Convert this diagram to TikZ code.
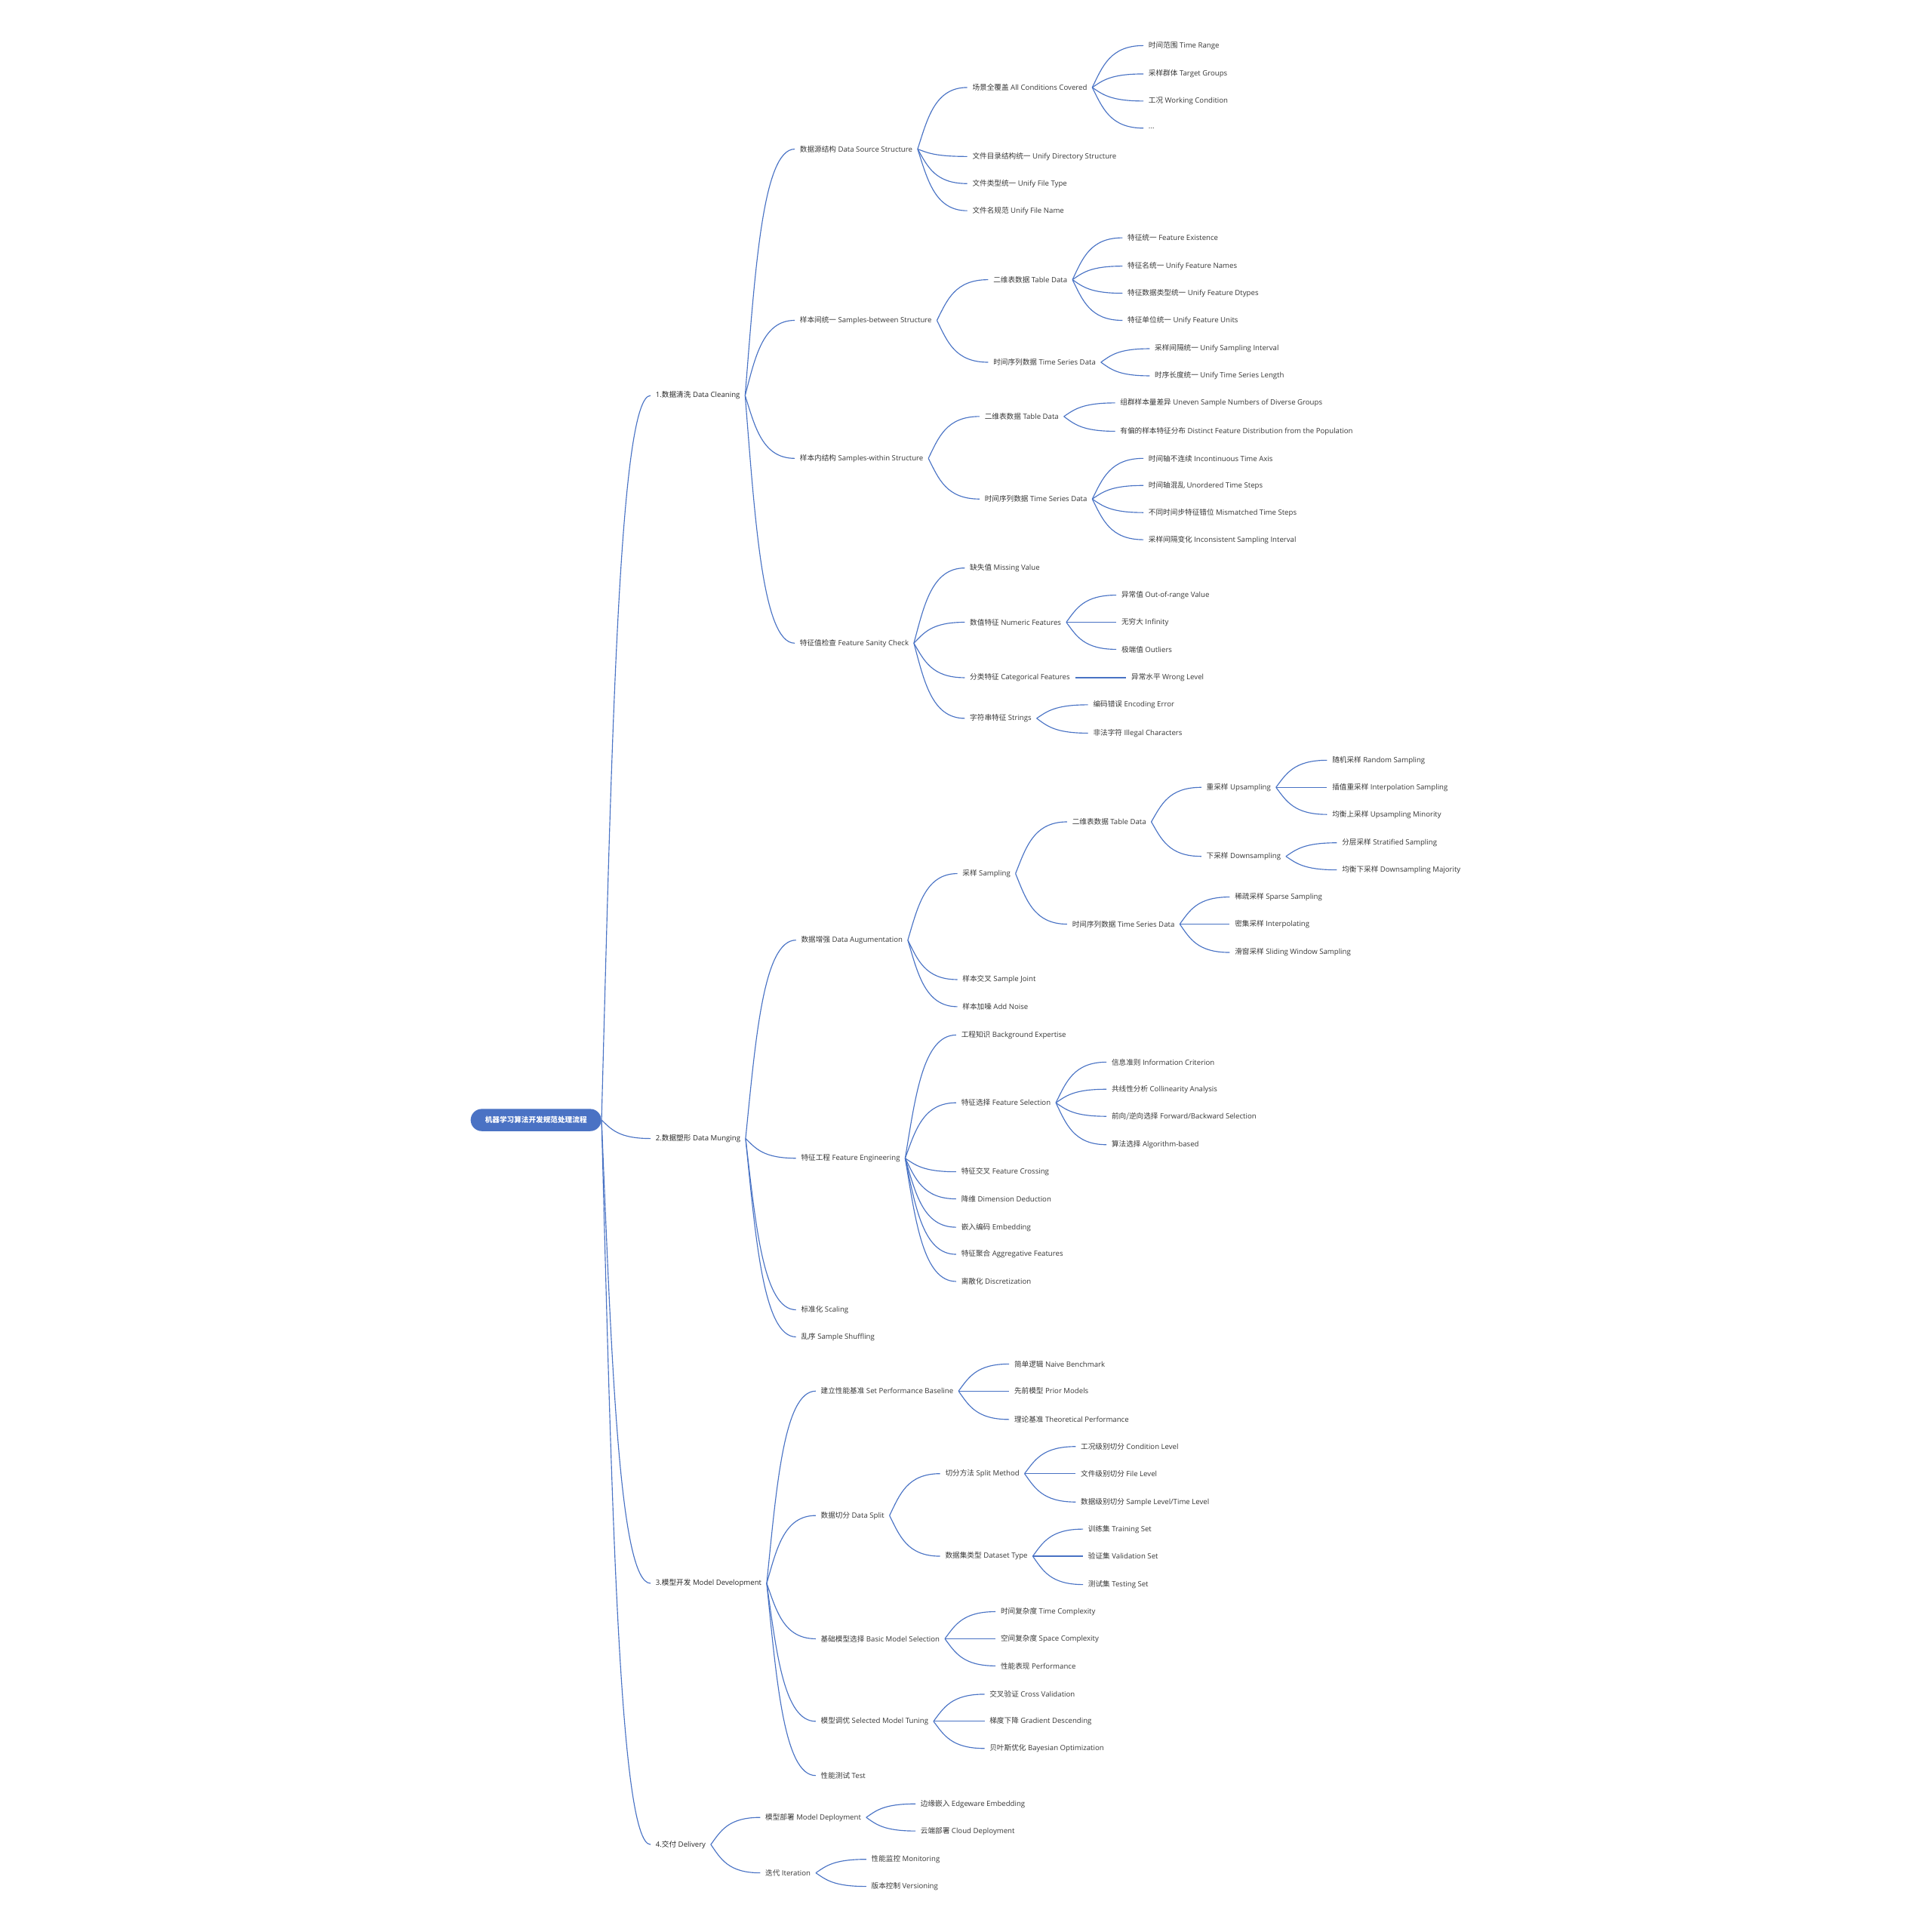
\documentclass[tikz,border=0pt]{standalone}
\usepackage{fontspec}
\setmainfont{Open Sans}
\newfontfamily\cjk{Noto Sans CJK SC}
\usetikzlibrary{calc}
\newcommand\zh[1]{{\cjk #1}}
\definecolor{branch}{RGB}{72,114,196}
\definecolor{topicfill}{RGB}{74,114,196}
\definecolor{labeltext}{RGB}{55,55,55}
% curved branch from the right end of a parent to the left end of a child
\newcommand\linkto[2]{\draw[conn] let \p1=(#1.east),\p2=(#2.west) in
  (\p1) .. controls ({\x1+0.2*(\x2-\x1)},{\y1+0.5*(\y2-\y1)}) and ({\x1+0.35*(\x2-\x1)},\y2) .. (\p2);}

\begin{document}
\begin{tikzpicture}[x=1pt,y=-1pt,
  lbl/.style={anchor=west, xshift=-4pt, inner xsep=4pt, inner ysep=1pt,
              font=\fontsize{5.9}{7}\selectfont, text=labeltext},
  main/.style={lbl, text=black!85},
  conn/.style={draw=branch, line width=0.7pt},
  roottopic/.style={fill=topicfill, rounded corners=9pt, minimum width=106pt,
              minimum height=18pt, inner sep=0pt, text=white,
              font=\fontsize{5.9}{7}\selectfont\bfseries}]
\useasboundingbox (0,0) rectangle (1568,1568);

% ---------- central topic ----------
\node[roottopic] (root) at (435,909) {\zh{机器学习算法开发规范处理流程}};

% ---------- main branches ----------
\node[main] (dc) at (532,321) {1.\zh{数据清洗} Data Cleaning};
\node[main] (dm) at (532,924) {2.\zh{数据塑形} Data Munging};
\node[main] (md) at (532,1285) {3.\zh{模型开发} Model Development};
\node[main] (dl) at (532,1497) {4.\zh{交付} Delivery};

% ---------- 1. data cleaning ----------
\node[lbl] (dc1) at (649,121) {\zh{数据源结构} Data Source Structure};
\node[lbl] (dc11) at (789,71) {\zh{场景全覆盖} All Conditions Covered};
\node[lbl] (dc111) at (932,37) {\zh{时间范围} Time Range};
\node[lbl] (dc112) at (932,60) {\zh{采样群体} Target Groups};
\node[lbl] (dc113) at (932,82) {\zh{工况} Working Condition};
\node[lbl] (dc114) at (932,104) {...};
\node[lbl] (dc12) at (789,127) {\zh{文件目录结构统一} Unify Directory Structure};
\node[lbl] (dc13) at (789,149) {\zh{文件类型统一} Unify File Type};
\node[lbl] (dc14) at (789,171) {\zh{文件名规范} Unify File Name};

\node[lbl] (dc2) at (649,260) {\zh{样本间统一} Samples-between Structure};
\node[lbl] (dc21) at (806,227) {\zh{二维表数据} Table Data};
\node[lbl] (dc211) at (915,193) {\zh{特征统一} Feature Existence};
\node[lbl] (dc212) at (915,216) {\zh{特征名统一} Unify Feature Names};
\node[lbl] (dc213) at (915,238) {\zh{特征数据类型统一} Unify Feature Dtypes};
\node[lbl] (dc214) at (915,260) {\zh{特征单位统一} Unify Feature Units};
\node[lbl] (dc22) at (806,294) {\zh{时间序列数据} Time Series Data};
\node[lbl] (dc221) at (937,283) {\zh{采样间隔统一} Unify Sampling Interval};
\node[lbl] (dc222) at (937,305) {\zh{时序长度统一} Unify Time Series Length};

\node[lbl] (dc3) at (649,372) {\zh{样本内结构} Samples-within Structure};
\node[lbl] (dc31) at (799,338) {\zh{二维表数据} Table Data};
\node[lbl] (dc311) at (909,327) {\zh{组群样本量差异} Uneven Sample Numbers of Diverse Groups};
\node[lbl] (dc312) at (909,350) {\zh{有偏的样本特征分布} Distinct Feature Distribution from the Population};
\node[lbl] (dc32) at (799,405) {\zh{时间序列数据} Time Series Data};
\node[lbl] (dc321) at (932,372) {\zh{时间轴不连续} Incontinuous Time Axis};
\node[lbl] (dc322) at (932,394) {\zh{时间轴混乱} Unordered Time Steps};
\node[lbl] (dc323) at (932,416) {\zh{不同时间步特征错位} Mismatched Time Steps};
\node[lbl] (dc324) at (932,438) {\zh{采样间隔变化} Inconsistent Sampling Interval};

\node[lbl] (dc4) at (649,522) {\zh{特征值检查} Feature Sanity Check};
\node[lbl] (dc41) at (787,461) {\zh{缺失值} Missing Value};
\node[lbl] (dc42) at (787,505) {\zh{数值特征} Numeric Features};
\node[lbl] (dc421) at (910,483) {\zh{异常值} Out-of-range Value};
\node[lbl] (dc422) at (910,505) {\zh{无穷大} Infinity};
\node[lbl] (dc423) at (910,527) {\zh{极端值} Outliers};
\node[lbl] (dc43) at (787,550) {\zh{分类特征} Categorical Features};
\node[lbl] (dc431) at (918,550) {\zh{异常水平} Wrong Level};
\node[lbl] (dc44) at (787,583) {\zh{字符串特征} Strings};
\node[lbl] (dc441) at (887,572) {\zh{编码错误} Encoding Error};
\node[lbl] (dc442) at (887,595) {\zh{非法字符} Illegal Characters};

% ---------- 2. data munging ----------
\node[lbl] (dm1) at (650,763) {\zh{数据增强} Data Augumentation};
\node[lbl] (dm11) at (781,709) {\zh{采样} Sampling};
\node[lbl] (dm111) at (870,667) {\zh{二维表数据} Table Data};
\node[lbl] (dm1111) at (979,639) {\zh{重采样} Upsampling};
\node[lbl] (up1) at (1081,617) {\zh{随机采样} Random Sampling};
\node[lbl] (up2) at (1081,639) {\zh{插值重采样} Interpolation Sampling};
\node[lbl] (up3) at (1081,661) {\zh{均衡上采样} Upsampling Minority};
\node[lbl] (dm1112) at (979,695) {\zh{下采样} Downsampling};
\node[lbl] (dn1) at (1089,684) {\zh{分层采样} Stratified Sampling};
\node[lbl] (dn2) at (1089,706) {\zh{均衡下采样} Downsampling Majority};
\node[lbl] (dm112) at (870,750) {\zh{时间序列数据} Time Series Data};
\node[lbl] (ts1) at (1002,728) {\zh{稀疏采样} Sparse Sampling};
\node[lbl] (ts2) at (1002,750) {\zh{密集采样} Interpolating};
\node[lbl] (ts3) at (1002,773) {\zh{滑窗采样} Sliding Window Sampling};
\node[lbl] (dm12) at (781,795) {\zh{样本交叉} Sample Joint};
\node[lbl] (dm13) at (781,817) {\zh{样本加噪} Add Noise};

\node[lbl] (dm2) at (650,940) {\zh{特征工程} Feature Engineering};
\node[lbl] (fe1) at (780,840) {\zh{工程知识} Background Expertise};
\node[lbl] (fe2) at (780,895) {\zh{特征选择} Feature Selection};
\node[lbl] (fs1) at (902,862) {\zh{信息准则} Information Criterion};
\node[lbl] (fs2) at (902,884) {\zh{共线性分析} Collinearity Analysis};
\node[lbl] (fs3) at (902,906) {\zh{前向/逆向选择} Forward/Backward Selection};
\node[lbl] (fs4) at (902,929) {\zh{算法选择} Algorithm-based};
\node[lbl] (fe3) at (780,951) {\zh{特征交叉} Feature Crossing};
\node[lbl] (fe4) at (780,973) {\zh{降维} Dimension Deduction};
\node[lbl] (fe5) at (780,996) {\zh{嵌入编码} Embedding};
\node[lbl] (fe6) at (780,1018) {\zh{特征聚合} Aggregative Features};
\node[lbl] (fe7) at (780,1040) {\zh{离散化} Discretization};
\node[lbl] (dm3) at (650,1063) {\zh{标准化} Scaling};
\node[lbl] (dm4) at (650,1085) {\zh{乱序} Sample Shuffling};

% ---------- 3. model development ----------
\node[lbl] (md1) at (666,1129) {\zh{建立性能基准} Set Performance Baseline};
\node[lbl] (bl1) at (823,1107) {\zh{简单逻辑} Naive Benchmark};
\node[lbl] (bl2) at (823,1129) {\zh{先前模型} Prior Models};
\node[lbl] (bl3) at (823,1152) {\zh{理论基准} Theoretical Performance};
\node[lbl] (md2) at (666,1230) {\zh{数据切分} Data Split};
\node[lbl] (md21) at (767,1196) {\zh{切分方法} Split Method};
\node[lbl] (sm1) at (877,1174) {\zh{工况级别切分} Condition Level};
\node[lbl] (sm2) at (877,1196) {\zh{文件级别切分} File Level};
\node[lbl] (sm3) at (877,1219) {\zh{数据级别切分} Sample Level/Time Level};
\node[lbl] (md22) at (767,1263) {\zh{数据集类型} Dataset Type};
\node[lbl] (st1) at (883,1241) {\zh{训练集} Training Set};
\node[lbl] (st2) at (883,1263) {\zh{验证集} Validation Set};
\node[lbl] (st3) at (883,1286) {\zh{测试集} Testing Set};
\node[lbl] (md3) at (666,1330) {\zh{基础模型选择} Basic Model Selection};
\node[lbl] (ms1) at (812,1308) {\zh{时间复杂度} Time Complexity};
\node[lbl] (ms2) at (812,1330) {\zh{空间复杂度} Space Complexity};
\node[lbl] (ms3) at (812,1352) {\zh{性能表现} Performance};
\node[lbl] (md4) at (666,1397) {\zh{模型调优} Selected Model Tuning};
\node[lbl] (tu1) at (803,1375) {\zh{交叉验证} Cross Validation};
\node[lbl] (tu2) at (803,1397) {\zh{梯度下降} Gradient Descending};
\node[lbl] (tu3) at (803,1419) {\zh{贝叶斯优化} Bayesian Optimization};
\node[lbl] (md5) at (666,1441) {\zh{性能测试} Test};

% ---------- 4. delivery ----------
\node[lbl] (dl1) at (621,1475) {\zh{模型部署} Model Deployment};
\node[lbl] (dp1) at (747,1464) {\zh{边缘嵌入} Edgeware Embedding};
\node[lbl] (dp2) at (747,1486) {\zh{云端部署} Cloud Deployment};
\node[lbl] (dl2) at (621,1520) {\zh{迭代} Iteration};
\node[lbl] (it1) at (707,1509) {\zh{性能监控} Monitoring};
\node[lbl] (it2) at (707,1531) {\zh{版本控制} Versioning};

% ---------- branches ----------
\foreach \c in {dc,dm,md,dl} {\linkto{root}{\c}}
\foreach \c in {dc1,dc2,dc3,dc4} {\linkto{dc}{\c}}
\foreach \c in {dc11,dc12,dc13,dc14} {\linkto{dc1}{\c}}
\foreach \c in {dc111,dc112,dc113,dc114} {\linkto{dc11}{\c}}
\foreach \c in {dc21,dc22} {\linkto{dc2}{\c}}
\foreach \c in {dc211,dc212,dc213,dc214} {\linkto{dc21}{\c}}
\foreach \c in {dc221,dc222} {\linkto{dc22}{\c}}
\foreach \c in {dc31,dc32} {\linkto{dc3}{\c}}
\foreach \c in {dc311,dc312} {\linkto{dc31}{\c}}
\foreach \c in {dc321,dc322,dc323,dc324} {\linkto{dc32}{\c}}
\foreach \c in {dc41,dc42,dc43,dc44} {\linkto{dc4}{\c}}
\foreach \c in {dc421,dc422,dc423} {\linkto{dc42}{\c}}
\linkto{dc43}{dc431}
\foreach \c in {dc441,dc442} {\linkto{dc44}{\c}}

\foreach \c in {dm1,dm2,dm3,dm4} {\linkto{dm}{\c}}
\foreach \c in {dm11,dm12,dm13} {\linkto{dm1}{\c}}
\foreach \c in {dm111,dm112} {\linkto{dm11}{\c}}
\foreach \c in {dm1111,dm1112} {\linkto{dm111}{\c}}
\foreach \c in {up1,up2,up3} {\linkto{dm1111}{\c}}
\foreach \c in {dn1,dn2} {\linkto{dm1112}{\c}}
\foreach \c in {ts1,ts2,ts3} {\linkto{dm112}{\c}}
\foreach \c in {fe1,fe2,fe3,fe4,fe5,fe6,fe7} {\linkto{dm2}{\c}}
\foreach \c in {fs1,fs2,fs3,fs4} {\linkto{fe2}{\c}}

\foreach \c in {md1,md2,md3,md4,md5} {\linkto{md}{\c}}
\foreach \c in {bl1,bl2,bl3} {\linkto{md1}{\c}}
\foreach \c in {md21,md22} {\linkto{md2}{\c}}
\foreach \c in {sm1,sm2,sm3} {\linkto{md21}{\c}}
\foreach \c in {st1,st2,st3} {\linkto{md22}{\c}}
\foreach \c in {ms1,ms2,ms3} {\linkto{md3}{\c}}
\foreach \c in {tu1,tu2,tu3} {\linkto{md4}{\c}}

\foreach \c in {dl1,dl2} {\linkto{dl}{\c}}
\foreach \c in {dp1,dp2} {\linkto{dl1}{\c}}
\foreach \c in {it1,it2} {\linkto{dl2}{\c}}
\end{tikzpicture}
\end{document}
